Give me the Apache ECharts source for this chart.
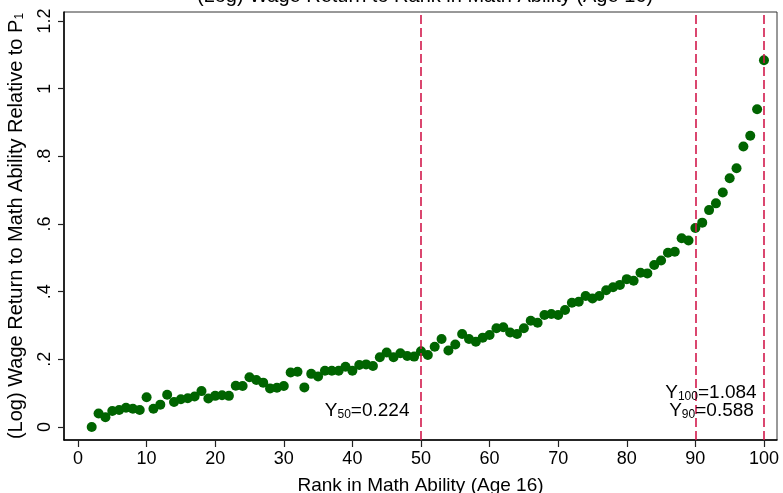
<!DOCTYPE html>
<html>
<head>
<meta charset="utf-8">
<script src="https://cdn.jsdelivr.net/npm/echarts@6/dist/echarts.min.js"></script>
<style>
  html, body { margin: 0; padding: 0; background: #fff; }
  #chart { width: 783px; height: 493px; }
</style>
</head>
<body>
<div id="chart"></div>
<script>
// rank in math ability (age 16)
const ranks = [
  2, 3, 4, 5, 6, 7, 8, 9, 10, 11, 12, 13, 14, 15, 16, 17, 18, 19, 20, 21,
  22, 23, 24, 25, 26, 27, 28, 29, 30, 31, 32, 33, 34, 35, 36, 37, 38, 39, 40, 41,
  42, 43, 44, 45, 46, 47, 48, 49, 50, 51, 52, 53, 54, 55, 56, 57, 58, 59, 60, 61,
  62, 63, 64, 65, 66, 67, 68, 69, 70, 71, 72, 73, 74, 75, 76, 77, 78, 79, 80, 81,
  82, 83, 84, 85, 86, 87, 88, 89, 90, 91, 92, 93, 94, 95, 96, 97, 98, 99, 100
]
// (log) wage return relative to P1
const wageReturn = [
  0.000, 0.040, 0.029, 0.047, 0.050, 0.057, 0.054, 0.050, 0.088, 0.054,
  0.066, 0.095, 0.074, 0.082, 0.085, 0.090, 0.106, 0.084, 0.092, 0.094,
  0.092, 0.122, 0.121, 0.147, 0.139, 0.131, 0.114, 0.116, 0.121, 0.161,
  0.163, 0.117, 0.157, 0.149, 0.166, 0.166, 0.166, 0.178, 0.166, 0.183,
  0.185, 0.180, 0.206, 0.220, 0.206, 0.218, 0.210, 0.208, 0.224, 0.213,
  0.237, 0.260, 0.226, 0.244, 0.275, 0.260, 0.252, 0.264, 0.272, 0.292,
  0.295, 0.279, 0.275, 0.292, 0.314, 0.308, 0.331, 0.334, 0.331, 0.346,
  0.367, 0.370, 0.387, 0.380, 0.387, 0.404, 0.413, 0.420, 0.437, 0.432,
  0.456, 0.454, 0.479, 0.492, 0.515, 0.518, 0.558, 0.551, 0.588, 0.604,
  0.641, 0.661, 0.693, 0.735, 0.765, 0.829, 0.861, 0.939, 1.084
]
const xTicks = [0, 10, 20, 30, 40, 50, 60, 70, 80, 90, 100]
const yTicks = [0, 0.2, 0.4, 0.6, 0.8, 1, 1.2]
const refRanks = [50, 90, 100]

const font = 'Liberation Sans, Arial, Helvetica, sans-serif'
const red = '#d2194c'
const green = '#006400'

const points = ranks.map((r, i) => [r, wageReturn[i]])
const valueAt = (r) => wageReturn[ranks.indexOf(r)].toFixed(3)
const yLabel = (v) => (v === 0 ? '0' : String(+v.toFixed(1)).replace(/^0\./, '.'))
const refLabel = (r) => '{m|Y}{s|' + r + '}{m|=' + valueAt(r) + '}'

const labelRich = {
  m: { fontSize: 19, fontFamily: font, color: '#000', verticalAlign: 'bottom', lineHeight: 19 },
  s: { fontSize: 12, fontFamily: font, color: '#000', verticalAlign: 'bottom', lineHeight: 14 },
}

let chart = echarts.init(document.getElementById('chart'), null, { renderer: 'canvas' })
chart.setOption({
  animation: false,
  backgroundColor: '#fff',
  title: {
    text: '(Log) Wage Return to Rank in Math Ability (Age 16)',
    left: 420,
    textAlign: 'center',
    top: -19,
    textStyle: { fontFamily: font, fontSize: 20, fontWeight: 'normal', color: '#000' },
  },
  grid: {
    left: 64,
    right: 6,
    top: 12,
    bottom: 53,
    show: true,
    borderColor: '#333',
    borderWidth: 1,
    containLabel: false,
    outerBoundsMode: 'none',
  },
  xAxis: {
    type: 'value',
    min: -2.04,
    max: 101.9,
    name: 'Rank in Math Ability (Age 16)',
    nameLocation: 'middle',
    nameGap: 36,
    nameMoveOverlap: false,
    nameTextStyle: { fontFamily: font, fontSize: 19, color: '#000' },
    axisLine: { show: true, onZero: false, lineStyle: { color: '#000', width: 1.5 } },
    axisTick: { show: true, length: 7, customValues: xTicks, lineStyle: { color: '#222', width: 1.2 } },
    axisLabel: { customValues: xTicks, fontFamily: font, fontSize: 18, color: '#000', margin: 10 },
    splitLine: { show: false },
  },
  yAxis: {
    type: 'value',
    min: -0.0385,
    max: 1.2266,
    name: '(Log) Wage Return to Math Ability Relative to P{s|1}',
    nameLocation: 'middle',
    nameGap: 38,
    nameRotate: 90,
    nameMoveOverlap: false,
    nameTextStyle: {
      fontFamily: font,
      fontSize: 20,
      color: '#000',
      rich: {
        s: { fontSize: 12, fontFamily: font, color: '#000', verticalAlign: 'bottom', lineHeight: 13 },
      },
    },
    axisLine: { show: true, onZero: false, lineStyle: { color: '#000', width: 1.5 } },
    axisTick: { show: true, length: 6, customValues: yTicks, lineStyle: { color: '#222', width: 1.2 } },
    axisLabel: {
      customValues: yTicks,
      rotate: 90,
      fontFamily: font,
      fontSize: 18,
      color: '#000',
      margin: 10,
      formatter: yLabel,
    },
    splitLine: { show: false },
  },
  series: [
    {
      type: 'scatter',
      data: points,
      symbol: 'circle',
      symbolSize: 10,
      itemStyle: { color: green, opacity: 1 },
      markLine: {
        silent: true,
        symbol: ['none', 'none'],
        label: { show: false },
        lineStyle: { color: red, type: [9, 4], width: 1.6 },
        data: refRanks.map((r) => ({ xAxis: r })),
      },
      markPoint: {
        silent: true,
        symbol: 'circle',
        symbolSize: 1,
        itemStyle: { color: 'rgba(0,0,0,0)' },
        label: { show: true, position: 'left', distance: 0, rich: labelRich },
        data: [
          { coord: [48.4, 0.047], label: { formatter: refLabel(50) } },
          { coord: [99.0, 0.1], label: { formatter: refLabel(100) } },
          { coord: [98.6, 0.047], label: { formatter: refLabel(90) } },
        ],
      },
    },
  ],
})
</script>
</body>
</html>
